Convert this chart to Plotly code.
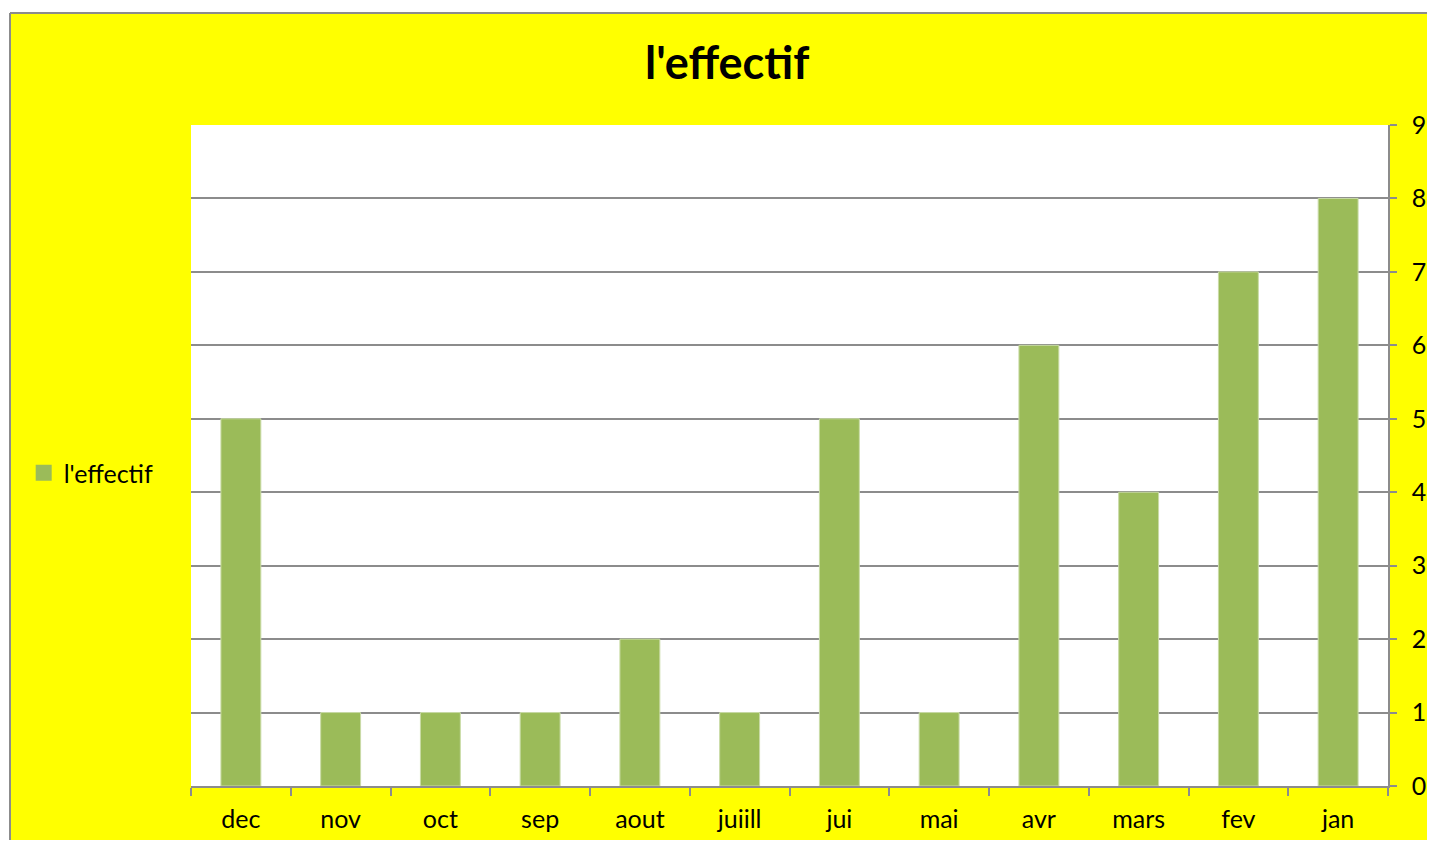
import plotly.graph_objects as go

months = ["dec", "nov", "oct", "sep", "aout", "juiill", "jui", "mai", "avr", "mars", "fev", "jan"]
effectif = [5, 1, 1, 1, 2, 1, 5, 1, 6, 4, 7, 8]
y_ticks = list(range(0, 10))
series_name = "l'effectif"
bar_color = "#9bbb59"

W, H = 1427, 832
L, R, T, B = 183, 47, 117, 54
pw, ph = W - L - R, H - T - B

# chart box edges in paper units (box runs off the right and bottom of the page)
box_left = (2 - L) / pw
box_right = (W + 20 - L) / pw
box_bottom = -(B + 20) / ph
box_top = 1 + (T - 5) / ph

fig = go.Figure()
fig.add_trace(
    go.Bar(
        x=months,
        y=effectif,
        name=series_name,
        marker={"color": bar_color, "line": {"color": "#c9dba6", "width": 1}},
        width=0.4,
        showlegend=False,
    )
)
# legend entry with a bigger square swatch, like the Excel legend
fig.add_trace(
    go.Scatter(
        x=[None],
        y=[None],
        mode="markers",
        name=series_name,
        marker={"symbol": "square", "size": 16, "color": bar_color},
    )
)

border = {"color": "#8c8c8c", "width": 2}
fig.update_layout(
    width=W,
    height=H,
    margin={"l": L, "r": R, "t": T, "b": B, "autoexpand": False},
    paper_bgcolor="white",
    plot_bgcolor="white",
    font={"family": "Lato, 'Open Sans', sans-serif", "color": "black"},
    title={
        "text": "<b>l'effectif</b>",
        "x": 0.504,
        "xanchor": "center",
        "y": 1 - 55 / H,
        "yanchor": "middle",
        "font": {"size": 45, "color": "black"},
    },
    showlegend=True,
    legend={
        "xref": "container",
        "yref": "container",
        "x": 0.011,
        "xanchor": "left",
        "y": 1 - 465 / H,
        "yanchor": "middle",
        "bgcolor": "rgba(0,0,0,0)",
        "font": {"size": 25},
        "itemwidth": 30,
    },
    shapes=[
        {
            "type": "rect",
            "xref": "paper",
            "yref": "paper",
            "x0": box_left,
            "x1": box_right,
            "y0": box_bottom,
            "y1": box_top,
            "fillcolor": "#ffff00",
            "line": {"width": 0},
            "layer": "below",
        },
        {
            "type": "line",
            "xref": "paper",
            "yref": "paper",
            "x0": box_left,
            "x1": box_left,
            "y0": box_bottom,
            "y1": box_top,
            "line": border,
            "layer": "below",
        },
        {
            "type": "line",
            "xref": "paper",
            "yref": "paper",
            "x0": box_left,
            "x1": box_right,
            "y0": box_top,
            "y1": box_top,
            "line": border,
            "layer": "below",
        },
        # white plot area
        {
            "type": "rect",
            "xref": "paper",
            "yref": "paper",
            "x0": 0,
            "x1": 1,
            "y0": 0,
            "y1": 1,
            "fillcolor": "white",
            "line": {"width": 0},
            "layer": "below",
        },
    ],
)

fig.update_xaxes(
    tickson="boundaries",
    ticks="outside",
    ticklen=8,
    tickwidth=1.5,
    tickcolor="#8c8c8c",
    showline=True,
    linecolor="#8c8c8c",
    linewidth=1.5,
    showgrid=False,
    tickfont={"size": 25},
    ticklabelstandoff=10,
    automargin=False,
)
fig.update_yaxes(
    side="right",
    range=[0, 9],
    tickvals=y_ticks,
    ticks="outside",
    ticklen=7,
    tickwidth=1.5,
    tickcolor="#8c8c8c",
    showline=True,
    linecolor="#8c8c8c",
    linewidth=1.5,
    showgrid=True,
    gridcolor="#8c8c8c",
    gridwidth=1.5,
    zeroline=False,
    tickfont={"size": 25},
    ticklabelstandoff=10,
    automargin=False,
)

fig.write_html("out.html")
